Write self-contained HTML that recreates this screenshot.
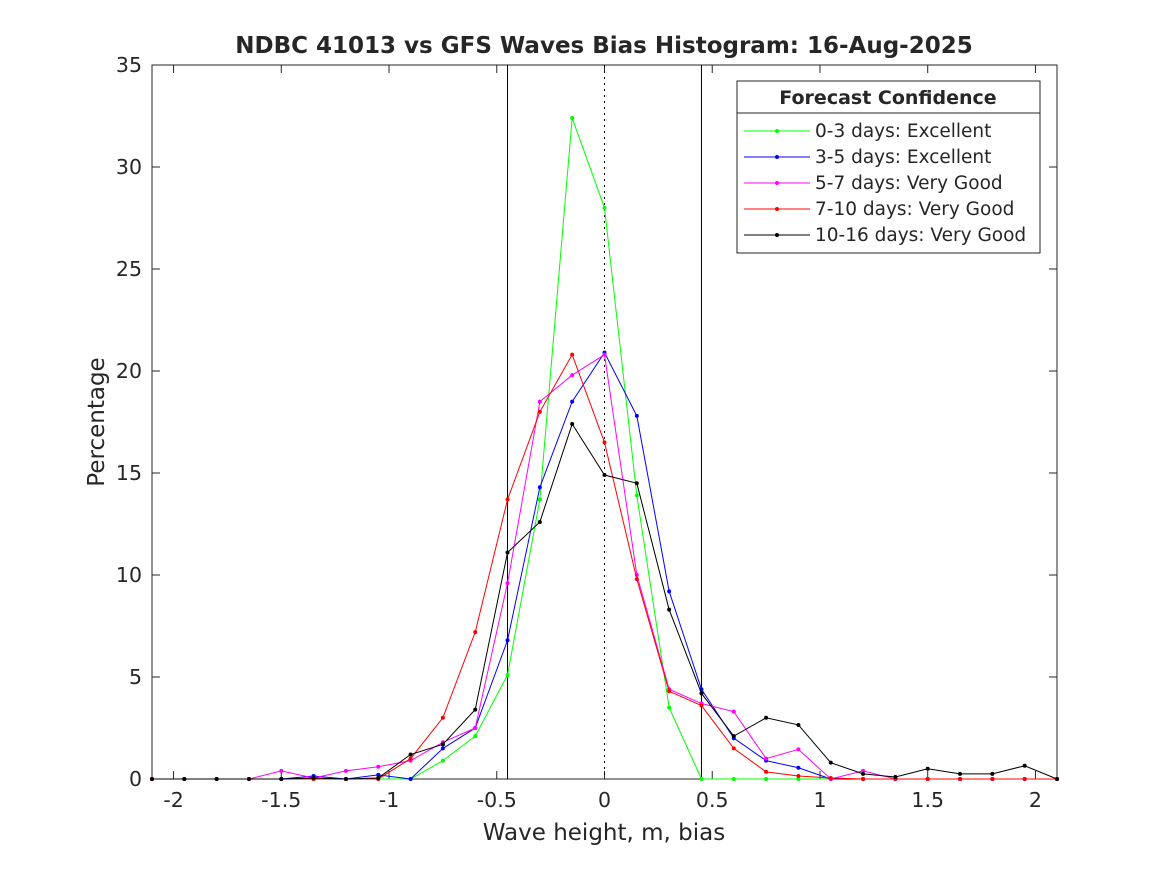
<!DOCTYPE html>
<html><head><meta charset="utf-8"><style>
body{margin:0;background:#fff;}
svg text{font-family:"DejaVu Sans","Liberation Sans",sans-serif;fill:#262626;}
</style></head><body>
<svg width="1167" height="875">
<rect width="1167" height="875" fill="#fff"/>
<text x="604" y="53" text-anchor="middle" font-size="23" font-weight="bold" fill="#000">NDBC 41013 vs GFS Waves Bias Histogram: 16-Aug-2025</text>
<g id="axes"></g>
<g id="series"></g>
<text x="604" y="840" text-anchor="middle" font-size="23">Wave height, m, bias</text>
<text transform="translate(104,422) rotate(-90)" text-anchor="middle" font-size="23">Percentage</text>
<g id="legend">
<rect x="737" y="81" width="303" height="172" fill="#fff" stroke="#262626" stroke-width="1"/>
<line x1="737" y1="113" x2="1040" y2="113" stroke="#262626"/>
<text x="888" y="104" text-anchor="middle" font-size="19" font-weight="bold" fill="#000">Forecast Confidence</text>
</g>
</svg>
<script>
const xVals=[-2.1,-1.95,-1.8,-1.65,-1.5,-1.35,-1.2,-1.05,-0.9,-0.75,-0.6,-0.45,-0.3,-0.15,0,0.15,0.3,0.45,0.6,0.75,0.9,1.05,1.2,1.35,1.5,1.65,1.8,1.95,2.1];
const green=[0,0,0,0,0,0,0,0,0,0.9,2.1,5.1,13.7,32.4,28,13.9,3.5,0,0,0,0,0,0,0,0,0,0,0,0];
const blue=[0,0,0,0,0,0.15,0,0.2,0,1.5,2.5,6.8,14.3,18.5,20.9,17.8,9.2,4.4,2.0,0.9,0.55,0,0,0,0,0,0,0,0];
const magenta=[0,0,0,0,0.4,0.05,0.4,0.6,0.9,1.8,2.5,9.6,18.5,19.8,20.8,10,4.4,3.7,3.3,1.0,1.45,0,0.4,0,0,0,0,0,0];
const red=[0,0,0,0,0,0,0,0,1.0,3.0,7.2,13.7,18,20.8,16.5,9.8,4.3,3.6,1.5,0.35,0.15,0.05,0,0,0,0,0,0,0];
const black=[0,0,0,0,0,0.05,0,0.05,1.2,1.7,3.4,11.1,12.6,17.4,14.9,14.5,8.3,4.2,2.1,3.0,2.65,0.8,0.25,0.1,0.5,0.25,0.25,0.65,0];
const seriesNames=["0-3 days: Excellent","3-5 days: Excellent","5-7 days: Very Good","7-10 days: Very Good","10-16 days: Very Good"];
const seriesColors=["#00ff00","#0000ff","#ff00ff","#ff0000","#000000"];
const xTicks=[-2,-1.5,-1,-0.5,0,0.5,1,1.5,2];
const xTickLabels=["-2","-1.5","-1","-0.5","0","0.5","1","1.5","2"];
const yTicks=[0,5,10,15,20,25,30,35];
const L=152,R=1057,T=65,B=779;
const xs=v=>L+(v+2.1)/4.2*(R-L);
const ys=v=>B-v/35*(B-T);
const NS="http://www.w3.org/2000/svg";
function mk(t,a,p){const e=document.createElementNS(NS,t);for(const k in a)e.setAttribute(k,a[k]);p.appendChild(e);return e;}
const ax=document.getElementById('axes');
mk('rect',{x:L,y:T,width:R-L,height:B-T,fill:'none',stroke:'#262626'},ax);
xTicks.forEach((t,i)=>{const x=xs(t);
mk('line',{x1:x,y1:B,x2:x,y2:B-8,stroke:'#262626'},ax);mk('line',{x1:x,y1:T,x2:x,y2:T+8,stroke:'#262626'},ax);
const tx=mk('text',{x:x,y:B+28,'text-anchor':'middle','font-size':20.5},ax);tx.textContent=xTickLabels[i];

});
yTicks.forEach(t=>{const y=ys(t);
mk('line',{x1:L,y1:y,x2:L+8,y2:y,stroke:'#262626'},ax);mk('line',{x1:R,y1:y,x2:R-8,y2:y,stroke:'#262626'},ax);
const tx=mk('text',{x:L-10,y:y+7,'text-anchor':'end','font-size':20.5},ax);tx.textContent=t;

});
[-0.45,0.45].forEach(v=>{const l=mk('line',{x1:xs(v),y1:T,x2:xs(v),y2:B,stroke:'#000'},ax);

});
const zl=mk('line',{x1:xs(0),y1:T,x2:xs(0),y2:B,stroke:'#000','stroke-dasharray':'2,4'},ax);


const sg=document.getElementById('series');const lg=document.getElementById('legend');
[green,blue,magenta,red,black].forEach((d,s)=>{const c=seriesColors[s];
const g=mk('g',{},sg);


mk('polyline',{points:d.map((v,i)=>xs(xVals[i])+','+ys(v)).join(' '),fill:'none',stroke:c,'stroke-width':1},g);
d.forEach((v,i)=>mk('circle',{cx:xs(xVals[i]),cy:ys(v),r:2,fill:c},g));
const y=131+s*26;
const le=mk('g',{},lg);


mk('line',{x1:744,y1:y,x2:810,y2:y,stroke:c},le);mk('circle',{cx:777,cy:y,r:2,fill:c},le);
const tx=mk('text',{x:815,y:y+6,'font-size':18.5,fill:'#000'},le);tx.textContent=seriesNames[s];});
</script>
</body></html>
